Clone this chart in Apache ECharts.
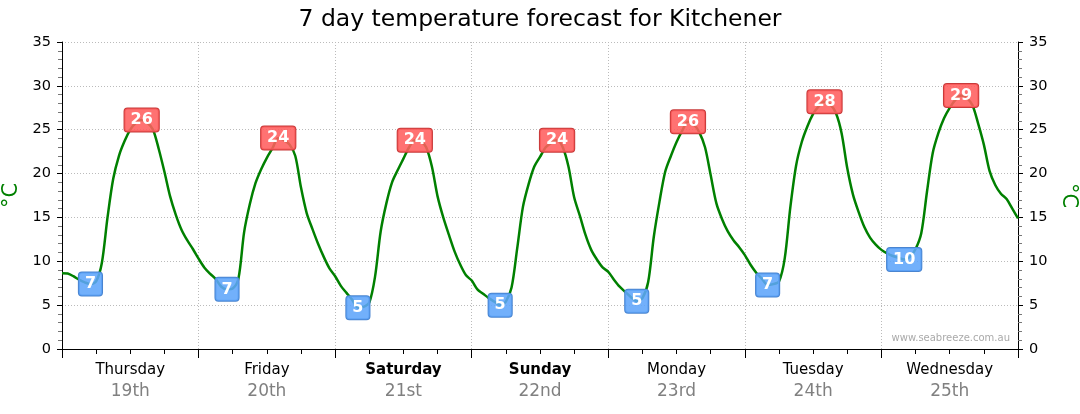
<!DOCTYPE html>
<html><head><meta charset="utf-8">
<script src="https://cdn.jsdelivr.net/npm/echarts@6.0.0/dist/echarts.min.js"></script>
<style>html,body{margin:0;padding:0;background:#fff}#c{width:1080px;height:414px}</style>
</head><body><div id="c"></div>
<script>
const titleText = '7 day temperature forecast for Kitchener';
const dayNames = ['Thursday', 'Friday', 'Saturday', 'Sunday', 'Monday', 'Tuesday', 'Wednesday'];
const dayDates = ['19th', '20th', '21st', '22nd', '23rd', '24th', '25th'];
const weekendDays = [false, false, true, true, false, false, false];
// hourly temperatures (°C), hour 0 = Thursday 00:00
const thuTemps = [8.65, 8.6, 8.3, 7.9, 7.6, 7.4, 7.7, 9.8, 15.0, 19.4, 22.0, 23.7, 25.0, 25.8, 26.1, 25.8, 25.0, 22.8, 20.2, 17.4, 15.3, 13.6, 12.4, 11.4];
const friTemps = [10.3, 9.3, 8.6, 8.0, 7.1, 6.8, 6.9, 8.0, 13.3, 16.5, 18.9, 20.5, 21.8, 22.9, 24.05, 23.8, 23.3, 22.0, 18.4, 15.5, 13.7, 12.0, 10.5, 9.2];
const satTemps = [8.3, 7.2, 6.4, 5.6, 4.7, 4.8, 5.3, 8.2, 13.4, 16.6, 19.0, 20.4, 21.7, 23.0, 23.8, 23.7, 23.0, 20.8, 17.4, 15.0, 13.0, 11.1, 9.6, 8.4];
const sunTemps = [7.8, 6.8, 6.3, 5.8, 5.4, 5.0, 5.4, 7.0, 11.5, 16.2, 18.8, 20.8, 21.9, 23.0, 23.5, 23.8, 23.0, 20.8, 17.3, 15.2, 13.0, 11.3, 10.2, 9.3];
const monTemps = [8.8, 7.9, 7.1, 6.5, 5.9, 5.45, 5.8, 7.6, 12.8, 16.8, 20.2, 22.0, 23.6, 24.9, 25.9, 25.6, 24.7, 23.0, 19.8, 16.6, 14.8, 13.4, 12.4, 11.6];
const tueTemps = [10.7, 9.6, 8.7, 8.0, 7.3, 7.4, 7.7, 10.3, 16.2, 20.9, 23.6, 25.4, 26.8, 27.7, 28.2, 27.9, 26.9, 24.6, 20.6, 17.6, 15.6, 13.9, 12.7, 11.9];
const wedTemps = [11.3, 10.9, 10.6, 10.4, 10.2, 10.5, 11.4, 13.2, 17.9, 22.3, 24.6, 26.3, 27.5, 28.4, 28.9, 28.6, 27.8, 25.7, 23.3, 20.3, 18.7, 17.7, 17.1, 16.0, 14.9];
const highLabels = [26, 24, 24, 24, 26, 28, 29];
const lowLabels = [7, 7, 5, 5, 5, 7, 10];
const yMin = 0, yMax = 35, yStep = 5;

const temps = [].concat(thuTemps, friTemps, satTemps, sunTemps, monTemps, tueTemps, wedTemps);
const lineData = temps.map((v, i) => [i, v]);
const highPts = [], lowPts = [];
for (let d = 0; d < 7; d++) {
  let hi = d * 24, lo = d * 24;
  for (let h = d * 24; h < d * 24 + 24; h++) {
    if (temps[h] > temps[hi]) hi = h;
    if (temps[h] < temps[lo]) lo = h;
  }
  highPts.push([hi, temps[hi]]);
  lowPts.push([lo, temps[lo]]);
}
const FONT = 'DejaVu Sans';
const boxLabel = (bg, border, texts) => ({
  show: true, position: 'inside',
  formatter: p => String(texts[p.dataIndex]),
  color: '#ffffff', textBorderWidth: 0, textShadowBlur: 0, opacity: 1,
  fontFamily: FONT, fontWeight: 'bold', fontSize: 16,
  backgroundColor: bg, borderColor: border, borderWidth: 1, borderRadius: 3,
  padding: [4, 6, 3, 6]
});
const chart = echarts.init(document.getElementById('c'), null, {renderer: 'canvas'});
chart.setOption({
  animation: false,
  backgroundColor: '#fff',
  title: {text: titleText, left: 535, top: 3, textAlign: 'center',
    textStyle: {fontFamily: FONT, fontSize: 23.5, fontWeight: 'normal', color: '#000'}},
  grid: {left: 62, right: 62, top: 42, bottom: 65, outerBoundsMode: 'none'},
  xAxis: [{
    type: 'value', min: 0, max: 168, interval: 24,
    axisLine: {show: true, lineStyle: {color: '#000', width: 1}},
    axisTick: {show: true, length: 9, lineStyle: {color: '#000'}},
    minorTick: {show: true, splitNumber: 4, length: 5, lineStyle: {color: '#000'}},
    axisLabel: {show: false},
    splitLine: {show: true, lineStyle: {color: '#bbb', type: [1, 2], width: 1}}
  }, {
    type: 'category', position: 'bottom', data: dayNames, boundaryGap: true,
    axisLine: {show: false}, axisTick: {show: false}, splitLine: {show: false},
    axisLabel: {
      margin: 10, interval: 0,
      formatter: (v, i) => (weekendDays[i] ? '{b|' + v + '}' : '{n|' + v + '}') + '\n{d|' + dayDates[i] + '}',
      rich: {
        n: {fontFamily: FONT, fontSize: 15, color: '#000', lineHeight: 22, align: 'center'},
        b: {fontFamily: FONT, fontSize: 15, fontWeight: 'bold', color: '#000', lineHeight: 22, align: 'center'},
        d: {fontFamily: FONT, fontSize: 17, color: '#808080', lineHeight: 22, align: 'center'}
      }
    }
  }],
  yAxis: [{
    type: 'value', min: yMin, max: yMax, interval: yStep, position: 'left',
    name: '°C', nameLocation: 'middle', nameGap: 37, nameRotate: 90,
    nameTextStyle: {color: '#008000', fontFamily: FONT, fontSize: 21},
    axisLine: {show: true, lineStyle: {color: '#000'}},
    axisTick: {show: true, length: 5, lineStyle: {color: '#000'}},
    minorTick: {show: true, splitNumber: 5, length: 4, lineStyle: {color: '#777'}},
    axisLabel: {margin: 11, color: '#000', fontFamily: FONT, fontSize: 14.5},
    splitLine: {show: true, lineStyle: {color: '#bbb', type: [1, 2], width: 1}}
  }, {
    type: 'value', min: yMin, max: yMax, interval: yStep, position: 'right',
    name: '°C', nameLocation: 'middle', nameGap: 35, nameRotate: -90,
    nameTextStyle: {color: '#008000', fontFamily: FONT, fontSize: 21},
    axisLine: {show: true, lineStyle: {color: '#000'}},
    axisTick: {show: true, length: 5, lineStyle: {color: '#000'}},
    minorTick: {show: true, splitNumber: 5, length: 4, lineStyle: {color: '#777'}},
    axisLabel: {margin: 11, color: '#000', fontFamily: FONT, fontSize: 14.5},
    splitLine: {show: false}
  }],
  graphic: [{
    type: 'text', right: 70, top: 333,
    style: {text: 'www.seabreeze.com.au', fill: '#aaa', font: '10px "DejaVu Sans"'}
  }],
  series: [{
    type: 'line', data: lineData, xAxisIndex: 0, yAxisIndex: 0,
    smooth: 0.3, showSymbol: false, symbol: 'none',
    lineStyle: {color: '#008000', width: 2.5}, z: 2
  }, {
    type: 'scatter', data: highPts, xAxisIndex: 0, yAxisIndex: 0,
    symbolSize: 1, itemStyle: {color: 'rgba(0,0,0,0)'}, z: 5,
    label: boxLabel('rgba(255,95,95,0.88)', '#c83a3a', highLabels)
  }, {
    type: 'scatter', data: lowPts, xAxisIndex: 0, yAxisIndex: 0,
    symbolSize: 1, itemStyle: {color: 'rgba(0,0,0,0)'}, z: 5,
    label: boxLabel('rgba(95,165,250,0.88)', '#4a85d0', lowLabels)
  }]
});
</script></body></html>
